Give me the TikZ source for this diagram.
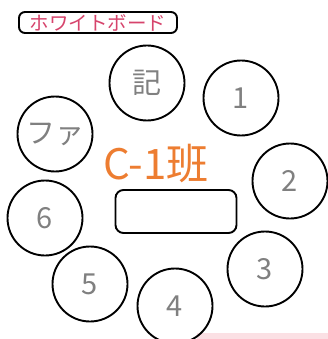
\documentclass[tikz,border=0pt]{standalone}
\usepackage{fontspec}
\setmainfont{Noto Sans CJK JP}
\definecolor{numgray}{RGB}{128,128,128}
\definecolor{teamorange}{RGB}{237,125,49}
\definecolor{boardpink}{RGB}{214,68,108}
\definecolor{bandpink}{RGB}{251,224,228}
\begin{document}
\begin{tikzpicture}[x=1pt,y=-1pt,
  seat/.style={circle,draw,line width=1.9pt,minimum size=75pt,inner sep=0pt,
    text=numgray,font=\fontsize{29}{29}\selectfont},
  board/.style={draw,line width=1.9pt,rounded corners=6pt,minimum width=158pt,
    minimum height=21pt,inner sep=0pt,text=boardpink,font=\fontsize{19.5}{19.5}\selectfont},
  desk/.style={draw,line width=1.9pt,rounded corners=8pt,minimum width=121pt,
    minimum height=43pt,inner sep=0pt},
  teamlabel/.style={text=teamorange,font=\fontsize{42}{42}\selectfont,inner sep=0pt}]
\useasboundingbox (0,0) rectangle (328,339);
\fill[bandpink] (197,333) rectangle (328,339);
\node[board] (wb) at (98,22.5) {ホワイトボード};
\node[seat] (rec) at (147,83) {記};
\node[seat] (s1) at (241,98) {1};
\node[seat] (fa) at (55,134) {ファ};
\node[seat] (s2) at (290,181) {2};
\node[seat] (s6) at (45,218) {6};
\node[seat] (s3) at (265,269) {3};
\node[seat] (s5) at (90,284) {5};
\node[seat] (s4) at (175,306) {4};
\node[teamlabel] (team) at (156,164) {C-1班};
\node[desk] (tbl) at (176,211.5) {};
\end{tikzpicture}
\end{document}
